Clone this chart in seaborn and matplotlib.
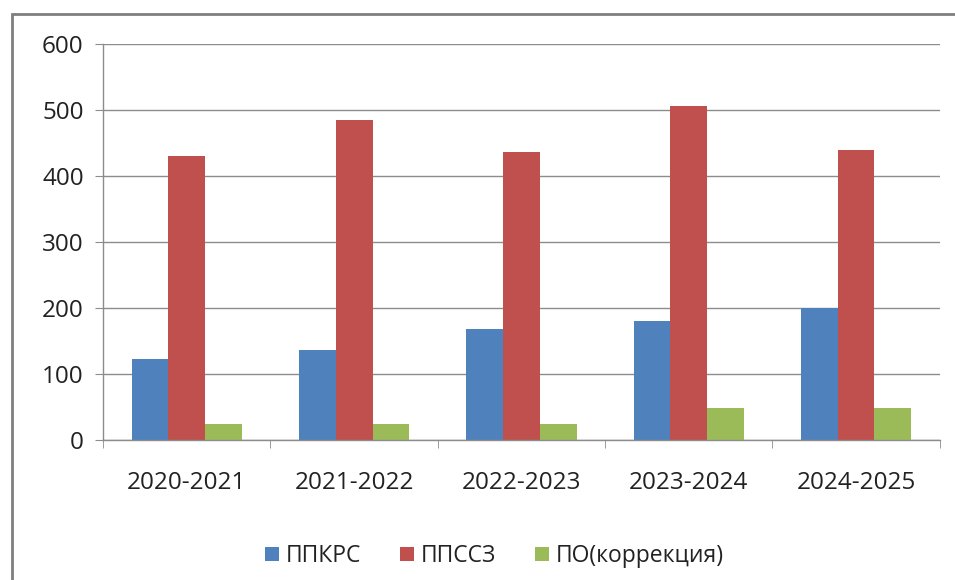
import pandas as pd
import matplotlib.pyplot as plt
import matplotlib.patches as mpatches
import seaborn as sns

# Data
years = ['2020-2021', '2021-2022', '2022-2023', '2023-2024', '2024-2025']
ppkrs = [123, 136, 169, 181, 200]
ppssz = [430, 485, 436, 506, 439]
po_corr = [24, 24, 24, 49, 49]
series = ['ППКРС', 'ППССЗ', 'ПО(коррекция)']
colors = ['#4F81BD', '#C0504D', '#9BBB59']

df = pd.DataFrame({'year': years, series[0]: ppkrs, series[1]: ppssz, series[2]: po_corr})
df = df.melt(id_vars='year', var_name='series', value_name='value')

sns.set_style('white')
plt.rcParams['font.family'] = ['Open Sans', 'DejaVu Sans']

fig = plt.figure(figsize=(9.55, 5.8), dpi=100)
ax = fig.add_axes([0.108, 0.241, 0.876, 0.683])

sns.barplot(data=df, x='year', y='value', hue='series', palette=colors,
            width=0.66, saturation=1, linewidth=0, ax=ax, legend=True)

ax.set_ylim(0, 600)
ax.set_xlim(-0.5, 4.5)
ax.set_yticks(range(0, 601, 100))
ax.yaxis.grid(True, color='#8c8c8c', linewidth=1)
ax.set_axisbelow(True)
ax.set_xlabel('')
ax.set_ylabel('')

for s in ['top', 'right']:
    ax.spines[s].set_visible(False)
for s in ['left', 'bottom']:
    ax.spines[s].set_color('#8c8c8c')
    ax.spines[s].set_linewidth(1)

ax.tick_params(axis='y', labelsize=17.5, length=6, color='#8c8c8c', left=True,
               pad=8, labelcolor='#222222')
ax.tick_params(axis='x', which='major', labelsize=17.5, length=0, pad=22,
               labelcolor='#222222')
ax.set_xticks([i - 0.5 for i in range(6)], minor=True)
ax.tick_params(axis='x', which='minor', length=6, color='#8c8c8c', bottom=True)

handles, labels = ax.get_legend_handles_labels()
leg = ax.legend(handles, labels, loc='upper center', bbox_to_anchor=(0.468, -0.21),
                ncol=3, frameon=False, fontsize=16.5, handlelength=0.6, handleheight=0.6,
                handletextpad=0.3, columnspacing=1.7)
for t in leg.get_texts():
    t.set_color('#222222')

# outer chart frame
fig.patches.append(mpatches.Rectangle((12 / 955, -0.05), 1.1, 1.05 - 14 / 580,
                                      transform=fig.transFigure, fill=False,
                                      edgecolor='#7f7f7f', linewidth=2))

fig.savefig('out.png', dpi=100)
